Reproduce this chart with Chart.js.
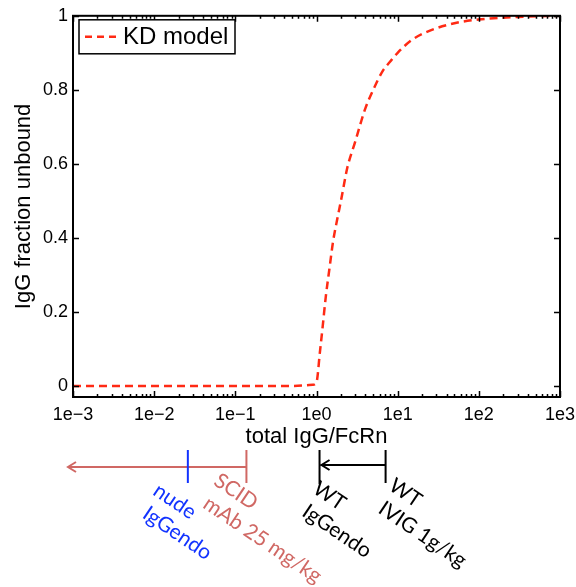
<!DOCTYPE html>
<html>
<head>
<meta charset="utf-8">
<script src="https://cdn.jsdelivr.net/npm/chart.js@4.4.1/dist/chart.umd.min.js"></script>
<style>
  html, body { margin:0; padding:0; background:#fff; }
  #wrap { width:576px; height:587px; }
</style>
</head>
<body>
<div id="wrap"><canvas id="c" width="576" height="587"></canvas></div>
<script>
// ── DATA ──────────────────────────────────────────────
const ratio    = [0.001, 0.01, 0.1, 0.5, 0.9, 1, 1.1, 1.2, 1.3, 1.45, 1.6, 1.8, 2, 2.4, 3, 3.5, 4, 5, 6.5, 8, 10, 15, 25, 50, 100, 300, 1000];
const unbound  = [0, 0, 0, 0, 0.003, 0.01, 0.09, 0.167, 0.24, 0.32, 0.39, 0.45, 0.5, 0.59, 0.66, 0.71, 0.75, 0.8, 0.85, 0.875, 0.9, 0.935, 0.96, 0.98, 0.99, 0.997, 1];
const xTicks   = [1e-3, 1e-2, 1e-1, 1e0, 1e1, 1e2, 1e3];
const xTickLbl = ['1e\u22123', '1e\u22122', '1e\u22121', '1e0', '1e1', '1e2', '1e3'];
const yTicks   = [0, 0.2, 0.4, 0.6, 0.8, 1];
const yTickLbl = ['0', '0.2', '0.4', '0.6', '0.8', '1'];

// markers under the axis (ratio where each group sits)
const markerX     = [0.026, 0.137, 1.09, 7.1];
const markerLines = [['nude', 'IgGendo'], ['SCID', 'mAb 25 mg/kg'], ['WT', 'IgGendo'], ['WT', 'IVIG 1g/kg']];

// ── STYLE ─────────────────────────────────────────────
const RED = '#ff2a14', SALMON = '#d06864', BLUE = '#1233ff';
const markerColor = [BLUE, SALMON, '#000', '#000'];
const markerText  = [[-36, 494], [-34, 484], [-8, 492], [2, 489]]; // dx from marker, baseline y
const FONT = "'Liberation Sans', Arial, Helvetica, sans-serif";
const NOTE_FONT = "21px Lato, 'Open Sans', sans-serif";

Chart.defaults.font.family = FONT;
Chart.defaults.color = '#000';

const frame = {
  id: 'frame',
  afterDatasetsDraw(chart) {
    const { ctx, chartArea: a, scales: { x, y } } = chart;
    ctx.save();
    ctx.strokeStyle = '#000';
    ctx.lineWidth = 2;
    ctx.strokeRect(a.left, a.top, a.right - a.left, a.bottom - a.top);
    ctx.lineWidth = 1.5;
    ctx.beginPath();
    yTicks.forEach(v => {
      const py = Math.round(y.getPixelForValue(v)) + 0.5;
      ctx.moveTo(a.left, py); ctx.lineTo(a.left + 6, py);
      ctx.moveTo(a.right, py); ctx.lineTo(a.right - 6, py);
    });
    for (let d = -3; d <= 3; d++) {
      for (let m = 1; m <= 9; m++) {
        const v = m * Math.pow(10, d);
        if (v > 1000) break;
        const px = Math.round(x.getPixelForValue(v)) + 0.5;
        const len = m === 1 ? 6 : 3;
        ctx.moveTo(px, a.bottom); ctx.lineTo(px, a.bottom - len);
        ctx.moveTo(px, a.top); ctx.lineTo(px, a.top + len);
      }
    }
    ctx.stroke();

    // legend
    const lx = a.left + 6, ly = a.top + 4, lw = 156, lh = 34;
    ctx.fillStyle = '#fff';
    ctx.fillRect(lx, ly, lw, lh);
    ctx.lineWidth = 1.5;
    ctx.strokeRect(lx, ly, lw, lh);
    ctx.strokeStyle = RED;
    ctx.lineWidth = 2.5;
    ctx.setLineDash([7, 5]);
    ctx.beginPath();
    ctx.moveTo(lx + 6, ly + lh / 2); ctx.lineTo(lx + 42, ly + lh / 2);
    ctx.stroke();
    ctx.setLineDash([]);
    ctx.fillStyle = '#000';
    ctx.font = '24px ' + FONT;
    ctx.textBaseline = 'middle';
    ctx.fillText('KD model', lx + 44, ly + lh / 2 + 1);
    ctx.restore();
  },
  afterDraw(chart) {
    const { ctx, chartArea: a, scales: { x } } = chart;
    const px = markerX.map(v => x.getPixelForValue(v));
    ctx.save();
    ctx.lineWidth = 2;

    // salmon arrow to the left
    ctx.strokeStyle = SALMON;
    ctx.beginPath();
    ctx.moveTo(px[1], 467); ctx.lineTo(a.left - 5, 467);
    ctx.moveTo(a.left + 3, 462); ctx.lineTo(a.left - 5, 467); ctx.lineTo(a.left + 3, 472);
    ctx.moveTo(px[1], 450); ctx.lineTo(px[1], 483);
    ctx.stroke();
    ctx.strokeStyle = BLUE;
    ctx.beginPath();
    ctx.moveTo(px[0], 450); ctx.lineTo(px[0], 483);
    ctx.stroke();

    // black arrow
    ctx.strokeStyle = '#000';
    ctx.beginPath();
    ctx.moveTo(px[2], 450); ctx.lineTo(px[2], 484);
    ctx.moveTo(px[3], 450); ctx.lineTo(px[3], 483);
    ctx.moveTo(px[3], 465); ctx.lineTo(px[2] + 2, 465);
    ctx.moveTo(px[2] + 10, 460); ctx.lineTo(px[2] + 2, 465); ctx.lineTo(px[2] + 10, 470);
    ctx.stroke();

    // rotated labels
    ctx.font = NOTE_FONT;
    ctx.textBaseline = 'alphabetic';
    markerLines.forEach((lines, i) => {
      ctx.save();
      ctx.translate(px[i] + markerText[i][0], markerText[i][1]);
      ctx.rotate(34 * Math.PI / 180);
      ctx.fillStyle = markerColor[i];
      lines.forEach((t, j) => ctx.fillText(t, 4 * j, 25 * j));
      ctx.restore();
    });
    ctx.restore();
  }
};

new Chart(document.getElementById('c'), {
  type: 'line',
  data: {
    datasets: [{
      label: 'KD model',
      data: ratio.map((r, i) => ({ x: r, y: unbound[i] })),
      borderColor: RED,
      borderWidth: 2.5,
      borderDash: [8, 5],
      pointRadius: 0,
      fill: false,
      cubicInterpolationMode: 'monotone',
    }],
  },
  options: {
    responsive: false,
    animation: false,
    layout: { padding: { left: 0, top: 14, right: 16, bottom: 135 } },
    plugins: { legend: { display: false }, tooltip: { enabled: false } },
    scales: {
      x: {
        type: 'logarithmic',
        min: 1e-3,
        max: 1e3,
        afterBuildTicks: s => { s.ticks = xTicks.map(v => ({ value: v })); },
        afterFit: s => { s.height = 55; s.paddingLeft = 0; s.paddingRight = 0; },
        grid: { display: false, drawTicks: false },
        border: { display: false },
        ticks: {
          font: { size: 18 },
          padding: 7,
          maxRotation: 0,
          callback: (v) => xTickLbl[xTicks.findIndex(t => Math.abs(Math.log10(t) - Math.log10(v)) < 1e-6)],
        },
        title: { display: true, text: 'total IgG/FcRn', font: { size: 22 }, padding: { top: 0, bottom: 2 } },
      },
      y: {
        min: -0.03,
        max: 1,
        afterBuildTicks: s => { s.ticks = yTicks.map(v => ({ value: v })); },
        afterFit: s => { s.width = 73; },
        grid: { display: false, drawTicks: false },
        border: { display: false },
        ticks: {
          font: { size: 18 },
          padding: 5,
          callback: (v) => yTickLbl[yTicks.findIndex(t => Math.abs(t - v) < 1e-6)],
        },
        title: { display: true, text: 'IgG fraction unbound', font: { size: 22 }, padding: { top: 11, bottom: 0 } },
      },
    },
  },
  plugins: [frame],
});
</script>
</body>
</html>
